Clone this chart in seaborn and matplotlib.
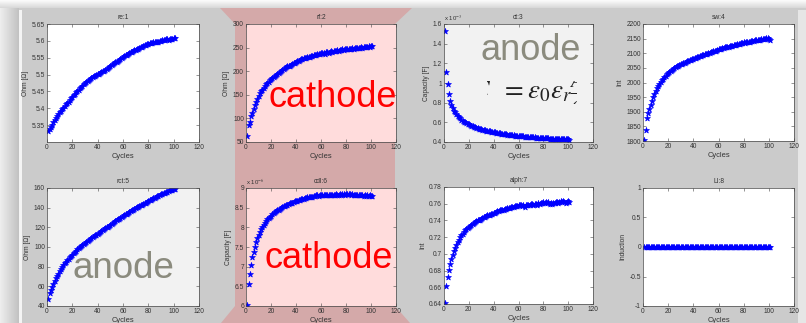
import numpy as np
import seaborn as sns
import matplotlib.pyplot as plt
from matplotlib.patches import Rectangle, Polygon
from matplotlib.ticker import FuncFormatter
from matplotlib.transforms import Bbox, TransformedBbox

sns.set_style("ticks")
plt.rcParams['font.family'] = ['Liberation Sans', 'DejaVu Sans']
plt.rcParams['mathtext.fontset'] = 'stix'

W, H = 806, 323

# cycle index of every measurement
cycles = np.arange(1, 102)

re_vals = [5.332, 5.338, 5.344, 5.351, 5.358, 5.365, 5.371, 5.376, 5.382, 5.388,
           5.393, 5.397, 5.402, 5.407, 5.412, 5.416, 5.420, 5.425, 5.430, 5.434,
           5.438, 5.442, 5.447, 5.451, 5.455, 5.459, 5.463, 5.467, 5.471, 5.475,
           5.479, 5.482, 5.485, 5.488, 5.491, 5.493, 5.495, 5.497, 5.499, 5.501,
           5.503, 5.505, 5.507, 5.510, 5.512, 5.515, 5.517, 5.520, 5.522, 5.525,
           5.528, 5.530, 5.533, 5.536, 5.538, 5.541, 5.543, 5.546, 5.548, 5.551,
           5.554, 5.557, 5.559, 5.562, 5.564, 5.566, 5.568, 5.570, 5.572, 5.573,
           5.575, 5.577, 5.579, 5.581, 5.583, 5.585, 5.587, 5.589, 5.590, 5.592,
           5.593, 5.594, 5.595, 5.596, 5.596, 5.597, 5.598, 5.598, 5.599, 5.600,
           5.602, 5.603, 5.604, 5.605, 5.605, 5.604, 5.605, 5.606, 5.606, 5.607, 5.608]

rf_vals = [62, 86, 93, 105, 112, 120, 128, 135, 142, 148,
           153, 157, 161, 165, 168, 172, 175, 178, 181, 183,
           186, 188, 190, 192, 195, 197, 199, 201, 203, 205,
           206, 208, 210, 211, 212, 214, 215, 217, 218, 220,
           221, 222, 223, 225, 226, 227, 228, 229, 230, 231,
           231, 232, 233, 234, 234, 235, 236, 236, 237, 238,
           238, 239, 236, 240, 240, 238, 241, 242, 241, 243,
           242, 243, 244, 243, 245, 244, 246, 245, 247, 247,
           246, 248, 247, 248, 249, 248, 250, 249, 250, 250,
           249, 251, 250, 251, 252, 251, 252, 253, 252, 254, 254]

ct_vals = [1.53e-3, 1.11e-3, 0.99e-3, 0.885e-3, 0.815e-3, 0.775e-3, 0.745e-3, 0.72e-3, 0.70e-3, 0.68e-3,
           0.665e-3, 0.65e-3, 0.64e-3, 0.628e-3, 0.618e-3, 0.608e-3, 0.60e-3, 0.592e-3, 0.585e-3, 0.578e-3,
           0.572e-3, 0.566e-3, 0.560e-3, 0.555e-3, 0.550e-3, 0.545e-3, 0.541e-3, 0.537e-3, 0.533e-3, 0.529e-3,
           0.526e-3, 0.522e-3, 0.519e-3, 0.516e-3, 0.513e-3, 0.510e-3, 0.507e-3, 0.505e-3, 0.502e-3, 0.500e-3,
           0.497e-3, 0.495e-3, 0.493e-3, 0.490e-3, 0.488e-3, 0.486e-3, 0.484e-3, 0.482e-3, 0.480e-3, 0.478e-3,
           0.476e-3, 0.474e-3, 0.473e-3, 0.471e-3, 0.469e-3, 0.468e-3, 0.466e-3, 0.465e-3, 0.463e-3, 0.462e-3,
           0.460e-3, 0.459e-3, 0.458e-3, 0.456e-3, 0.455e-3, 0.454e-3, 0.452e-3, 0.451e-3, 0.450e-3, 0.449e-3,
           0.448e-3, 0.447e-3, 0.446e-3, 0.445e-3, 0.444e-3, 0.443e-3, 0.442e-3, 0.441e-3, 0.440e-3, 0.439e-3,
           0.438e-3, 0.437e-3, 0.437e-3, 0.436e-3, 0.435e-3, 0.434e-3, 0.434e-3, 0.433e-3, 0.432e-3, 0.432e-3,
           0.431e-3, 0.430e-3, 0.430e-3, 0.429e-3, 0.428e-3, 0.428e-3, 0.427e-3, 0.427e-3, 0.426e-3, 0.426e-3, 0.425e-3]

sw_vals = [1803, 1836, 1877, 1895, 1910, 1924, 1938, 1950, 1961, 1972,
           1981, 1989, 1996, 2002, 2008, 2013, 2018, 2023, 2028, 2032,
           2036, 2040, 2043, 2046, 2049, 2052, 2055, 2057, 2060, 2062,
           2064, 2066, 2068, 2070, 2072, 2074, 2076, 2078, 2080, 2082,
           2083, 2085, 2087, 2088, 2090, 2091, 2093, 2094, 2096, 2097,
           2099, 2100, 2102, 2103, 2105, 2106, 2108, 2109, 2111, 2113,
           2114, 2116, 2117, 2118, 2122, 2120, 2123, 2122, 2124, 2125,
           2126, 2127, 2129, 2129, 2131, 2132, 2132, 2134, 2135, 2137,
           2136, 2138, 2139, 2139, 2140, 2141, 2143, 2142, 2144, 2145,
           2145, 2146, 2147, 2148, 2148, 2149, 2150, 2151, 2151, 2150, 2146]

rct_vals = [47, 53, 56, 59, 62, 65, 68, 71, 73, 76,
            78, 80, 82, 83.5, 85, 86.5, 88, 89.5, 91, 92,
            93.5, 95, 96, 97.5, 98.5, 100, 101, 102, 103, 104,
            105, 106, 107, 108, 109, 110, 111, 111.8, 112.6, 113.5,
            114.5, 115.4, 116.3, 117.2, 118.1, 119, 119.9, 120.8, 121.7, 122.6,
            123.5, 124.4, 125.3, 126.2, 127.1, 128, 128.9, 129.8, 130.7, 131.6,
            132.4, 133.2, 134, 134.8, 135.6, 136.4, 137.2, 138, 138.8, 139.6,
            140.3, 141, 141.7, 142.4, 143.1, 143.8, 144.5, 145.2, 145.9, 146.6,
            147.3, 148, 148.7, 149.4, 150.1, 150.8, 151.5, 152.2, 152.8, 153.4,
            154, 154.6, 155.2, 155.8, 156.4, 157, 157.5, 158, 158.4, 158.8, 159.2]

cdl_vals = [6.02e-6, 6.55e-6, 6.81e-6, 7.05e-6, 7.24e-6, 7.38e-6, 7.50e-6, 7.62e-6, 7.72e-6, 7.81e-6,
            7.89e-6, 7.96e-6, 8.02e-6, 8.07e-6, 8.12e-6, 8.16e-6, 8.20e-6, 8.24e-6, 8.27e-6, 8.30e-6,
            8.33e-6, 8.36e-6, 8.38e-6, 8.41e-6, 8.43e-6, 8.45e-6, 8.47e-6, 8.49e-6, 8.51e-6, 8.53e-6,
            8.55e-6, 8.56e-6, 8.58e-6, 8.59e-6, 8.61e-6, 8.62e-6, 8.63e-6, 8.65e-6, 8.66e-6, 8.67e-6,
            8.68e-6, 8.69e-6, 8.70e-6, 8.71e-6, 8.72e-6, 8.73e-6, 8.74e-6, 8.75e-6, 8.76e-6, 8.76e-6,
            8.77e-6, 8.78e-6, 8.78e-6, 8.79e-6, 8.80e-6, 8.81e-6, 8.81e-6, 8.80e-6, 8.82e-6, 8.81e-6,
            8.82e-6, 8.81e-6, 8.82e-6, 8.83e-6, 8.82e-6, 8.81e-6, 8.83e-6, 8.82e-6, 8.83e-6, 8.82e-6,
            8.83e-6, 8.84e-6, 8.83e-6, 8.82e-6, 8.84e-6, 8.83e-6, 8.85e-6, 8.84e-6, 8.83e-6, 8.85e-6,
            8.84e-6, 8.85e-6, 8.84e-6, 8.83e-6, 8.84e-6, 8.82e-6, 8.83e-6, 8.82e-6, 8.81e-6, 8.82e-6,
            8.81e-6, 8.82e-6, 8.81e-6, 8.80e-6, 8.81e-6, 8.80e-6, 8.81e-6, 8.80e-6, 8.81e-6, 8.80e-6, 8.80e-6]

alph_vals = [0.641, 0.661, 0.672, 0.681, 0.688, 0.694, 0.699, 0.703, 0.707, 0.711,
             0.714, 0.717, 0.720, 0.722, 0.724, 0.726, 0.728, 0.730, 0.731, 0.732,
             0.733, 0.735, 0.736, 0.737, 0.738, 0.739, 0.740, 0.741, 0.741, 0.742,
             0.743, 0.744, 0.744, 0.745, 0.746, 0.746, 0.747, 0.748, 0.748, 0.749,
             0.749, 0.750, 0.751, 0.751, 0.752, 0.752, 0.753, 0.753, 0.754, 0.754,
             0.755, 0.755, 0.755, 0.756, 0.756, 0.756, 0.757, 0.757, 0.757, 0.758,
             0.758, 0.758, 0.757, 0.759, 0.756, 0.759, 0.758, 0.759, 0.759, 0.760,
             0.760, 0.759, 0.760, 0.760, 0.759, 0.761, 0.760, 0.761, 0.761, 0.762,
             0.761, 0.762, 0.761, 0.762, 0.760, 0.761, 0.760, 0.761, 0.761, 0.762,
             0.762, 0.761, 0.762, 0.763, 0.762, 0.763, 0.762, 0.761, 0.762, 0.763, 0.762]

li_vals = [0.0] * 101

titles = ["re:1", "rf:2", "ct:3", "sw:4", "rct:5", "cdl:6", "alph:7", "LI:8"]
ylabels = ["Ohm [\u03a9]", "Ohm [\u03a9]", "Capacity [F]", "Int",
           "Ohm [\u03a9]", "Capacity [F]", "Int", "Induction"]
series = [re_vals, rf_vals, ct_vals, sw_vals, rct_vals, cdl_vals, alph_vals, li_vals]
yticks = [[5.35, 5.4, 5.45, 5.5, 5.55, 5.6, 5.65],
          [50, 100, 150, 200, 250, 300],
          [0.4e-3, 0.6e-3, 0.8e-3, 1.0e-3, 1.2e-3, 1.4e-3, 1.6e-3],
          [1800, 1850, 1900, 1950, 2000, 2050, 2100, 2150, 2200],
          [40, 60, 80, 100, 120, 140, 160],
          [6e-6, 6.5e-6, 7e-6, 7.5e-6, 8e-6, 8.5e-6, 9e-6],
          [0.64, 0.66, 0.68, 0.7, 0.72, 0.74, 0.76, 0.78],
          [-1, -0.5, 0, 0.5, 1]]
ylims = [(5.30, 5.65), (50, 300), (0.4e-3, 1.6e-3), (1800, 2200),
         (40, 160), (6e-6, 9e-6), (0.64, 0.78), (-1, 1)]
yscale = [1, 1, 1e-3, 1, 1, 1e-6, 1, 1]
xticks = [0, 20, 40, 60, 80, 100, 120]

# axes boxes in pixels: left, top, right, bottom
boxes = [(47, 24, 199, 142), (246, 24, 396, 142), (444, 24, 593, 142), (643, 24, 794, 141),
         (47, 188, 199, 306), (246, 188, 396, 306), (444, 187, 593, 304), (643, 188, 794, 306)]
faces = ["white", "#ffdcdc", "#f2f2f2", "white", "#f2f2f2", "#ffdcdc", "white", "white"]


def frac(l, t, r, b):
    return [l / W, 1 - b / H, (r - l) / W, (b - t) / H]


fig = plt.figure(figsize=(W / 100, H / 100), dpi=100)
fig.patch.set_facecolor("#cbcbcb")

# slide background
bg = fig.add_axes([0, 0, 1, 1], zorder=0)
bg.axis("off")
grad = np.linspace(0.93, 0.76, 20)[None, :].repeat(2, axis=0)
bg.imshow(grad, extent=(0, 19, H, 0), cmap="gray", vmin=0, vmax=1, aspect="auto")
top = np.linspace(0.98, 0.85, 8)[:, None].repeat(2, axis=1)
bg.imshow(top, extent=(0, W, 8, 0), cmap="gray", vmin=0, vmax=1, aspect="auto")
bg.add_patch(Rectangle((19, 10), 2.5, H - 10, color="#f4f4f4", lw=0))
bg.add_patch(Rectangle((798, 10), 8, H - 10, color="#e6e6e6", lw=0))
bg.add_patch(Polygon([(220, 8), (412, 8), (395, 24), (395, 306), (410, 323),
                      (221, 323), (235, 306), (235, 24)], closed=True,
                     color="#d4a9a9", lw=0))
bg.set_xlim(0, W)
bg.set_ylim(H, 0)

for i in range(8):
    ax = fig.add_axes(frac(*boxes[i]), zorder=1)
    ax.set_facecolor(faces[i])
    sns.scatterplot(x=cycles, y=series[i], ax=ax, marker="*", color="blue",
                    edgecolor="blue", s=20, linewidth=0.45, legend=False)
    ax.set_xlim(0, 120)
    ax.set_xticks(xticks)
    ax.set_ylim(*ylims[i])
    ax.set_yticks(yticks[i])
    sc = yscale[i]
    ax.yaxis.set_major_formatter(FuncFormatter(lambda v, p, sc=sc: "%g" % round(v / sc, 4)))
    ax.xaxis.set_major_formatter(FuncFormatter(lambda v, p: "%g" % v))
    ax.tick_params(direction="in", length=2, width=0.4, labelsize=4.8, pad=1.5,
                   top=True, right=True, colors="#444", labelcolor="#333")
    for s in ax.spines.values():
        s.set_linewidth(0.5)
        s.set_color("#444")
    ax.set_title(titles[i], fontsize=4.8, pad=3.5, color="#333")
    ax.set_ylabel(ylabels[i], fontsize=4.8, labelpad=2, color="#333")
    ax.set_xlabel("Cycles", fontsize=5.4, labelpad=1.5, color="#333")
    if sc != 1:
        ax.text(0.0, 1.012, r"x 10$^{%d}$" % int(round(np.log10(sc))), transform=ax.transAxes,
                fontsize=4.3, va="bottom", ha="left", color="#333")

# slide annotations
ov = fig.add_axes([0, 0, 1, 1], zorder=2)
ov.set_xlim(0, W)
ov.set_ylim(H, 0)
ov.axis("off")
ov.patch.set_alpha(0)
ov.text(268, 107, "cathode", color="red", fontsize=26, va="baseline", ha="left")
ov.text(265, 268, "cathode", color="red", fontsize=26, va="baseline", ha="left")
ov.text(480, 60, "anode", color="#8b8b7e", fontsize=26, va="baseline", ha="left")
ov.text(72, 278, "anode", color="#8b8b7e", fontsize=26.5, va="baseline", ha="left")

# cropped formula picture on the slide
crop = TransformedBbox(Bbox.from_extents(487 / W, 1 - 104 / H, 577 / W, 1 - 81 / H),
                       fig.transFigure)
c_txt = ov.text(491, 98, r"$C$", color="#222", fontsize=19, va="baseline", ha="right",
                clip_on=True)
eq = ov.text(501, 98, r"$= \varepsilon_0\varepsilon_r\frac{A}{d}$", color="#222",
             fontsize=19.5, va="baseline", ha="left", clip_on=True)
for t in (c_txt, eq):
    t.set_clip_box(crop)

fig.savefig("out.png", dpi=100, facecolor=fig.get_facecolor())
